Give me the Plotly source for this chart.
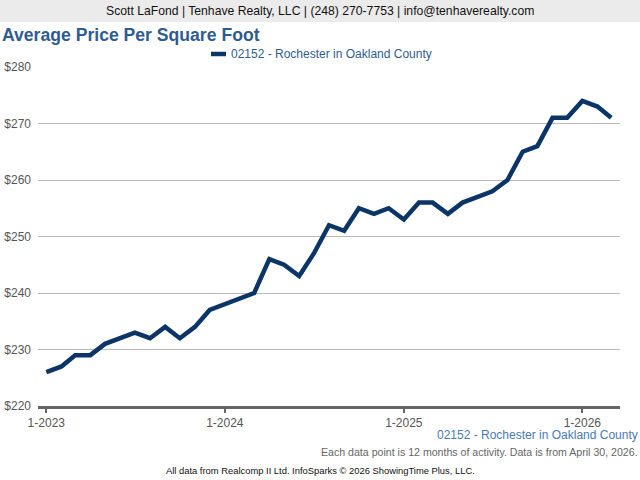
import plotly.graph_objects as go

years = [2023, 2024, 2025, 2026]
months = [f"{y}-{m:02d}-01" for y in years for m in range(1, 13)][:39]
price = [226, 227, 229, 229, 231, 232, 233, 232, 234, 232, 234, 237,
         238, 239, 240, 246, 245, 243, 247, 252, 251, 255, 254, 255,
         253, 256, 256, 254, 256, 257, 258, 260, 265, 266, 271, 271,
         274, 273, 271]
series_name = "02152 - Rochester in Oakland County"
tick_dates = ["2023-01-01", "2024-01-01", "2025-01-01", "2026-01-01"]
tick_labels = ["1-2023", "1-2024", "1-2025", "1-2026"]
y_ticks = [220, 230, 240, 250, 260, 270, 280]
y_labels = [f"${v}" for v in y_ticks]

FONT = "Liberation Sans, Arial, sans-serif"
W, H = 640, 480
L, R, T, B = 38, 20, 67, 74
pw, ph = W - L - R, H - T - B
LINE_COLOR = "#0b3566"

def px_x(x):
    return (x - L) / pw

def px_y(y):
    return (H - B - y) / ph

fig = go.Figure()
fig.add_trace(go.Scatter(x=months, y=price, mode="lines", name=series_name,
                         line=dict(color=LINE_COLOR, width=4.5)))

fig.update_layout(
    width=W, height=H, margin=dict(l=L, r=R, t=T, b=B, autoexpand=False),
    paper_bgcolor="white", plot_bgcolor="white",
    font=dict(family=FONT, color="#555555", size=12),
    showlegend=False,
    xaxis=dict(type="date", range=["2022-12-15", "2026-03-19"],
               tickvals=tick_dates, ticktext=tick_labels, automargin=False,
               showgrid=False, showline=True, linecolor="#666666", linewidth=2.5,
               ticks="outside", ticklen=4, tickwidth=2, tickcolor="#666666",
               tickfont=dict(color="#555555", size=12), zeroline=False),
    yaxis=dict(range=[220, 280], tickvals=y_ticks, ticktext=y_labels, automargin=False,
               showgrid=True, gridcolor="#bbbbbb", gridwidth=1,
               zeroline=False, showline=False, ticks="", ticklabelstandoff=6,
               tickfont=dict(color="#555555", size=12)),
    shapes=[dict(type="rect", xref="paper", yref="paper",
                 x0=px_x(0), x1=px_x(W), y0=px_y(22), y1=px_y(0),
                 fillcolor="#ebebeb", line=dict(width=0), layer="below"),
            dict(type="line", xref="paper", yref="paper",
                 x0=px_x(211), x1=px_x(226), y0=px_y(54), y1=px_y(54),
                 line=dict(color=LINE_COLOR, width=4.5))],
    annotations=[
        dict(text="Scott LaFond | Tenhave Realty, LLC | (248) 270-7753 | info@tenhaverealty.com",
             xref="paper", yref="paper", x=px_x(320), y=px_y(11),
             xanchor="center", yanchor="middle", showarrow=False,
             font=dict(family=FONT, size=12.2, color="#111111")),
        dict(text="<b>Average Price Per Square Foot</b>",
             xref="paper", yref="paper", x=px_x(0), y=px_y(35),
             xanchor="left", yanchor="middle", showarrow=False,
             font=dict(family=FONT, size=17.6, color="#2f5c8f")),
        dict(text=series_name,
             xref="paper", yref="paper", x=px_x(229), y=px_y(54),
             xanchor="left", yanchor="middle", showarrow=False,
             font=dict(family=FONT, size=12, color="#2f5c8f")),
        dict(text=series_name,
             xref="paper", yref="paper", x=px_x(640), y=px_y(435),
             xanchor="right", yanchor="middle", showarrow=False,
             font=dict(family=FONT, size=12, color="#4a7ab5")),
        dict(text="Each data point is 12 months of activity. Data is from April 30, 2026.",
             xref="paper", yref="paper", x=px_x(640), y=px_y(452),
             xanchor="right", yanchor="middle", showarrow=False,
             font=dict(family=FONT, size=10.6, color="#666666")),
        dict(text="All data from Realcomp II Ltd. InfoSparks © 2026 ShowingTime Plus, LLC.",
             xref="paper", yref="paper", x=px_x(320), y=px_y(470),
             xanchor="center", yanchor="middle", showarrow=False,
             font=dict(family=FONT, size=9.4, color="#111111")),
    ],
)

fig.write_html("out.html", config={"displayModeBar": False},
               post_script="document.body.style.margin='0';document.body.style.overflow='hidden';")
